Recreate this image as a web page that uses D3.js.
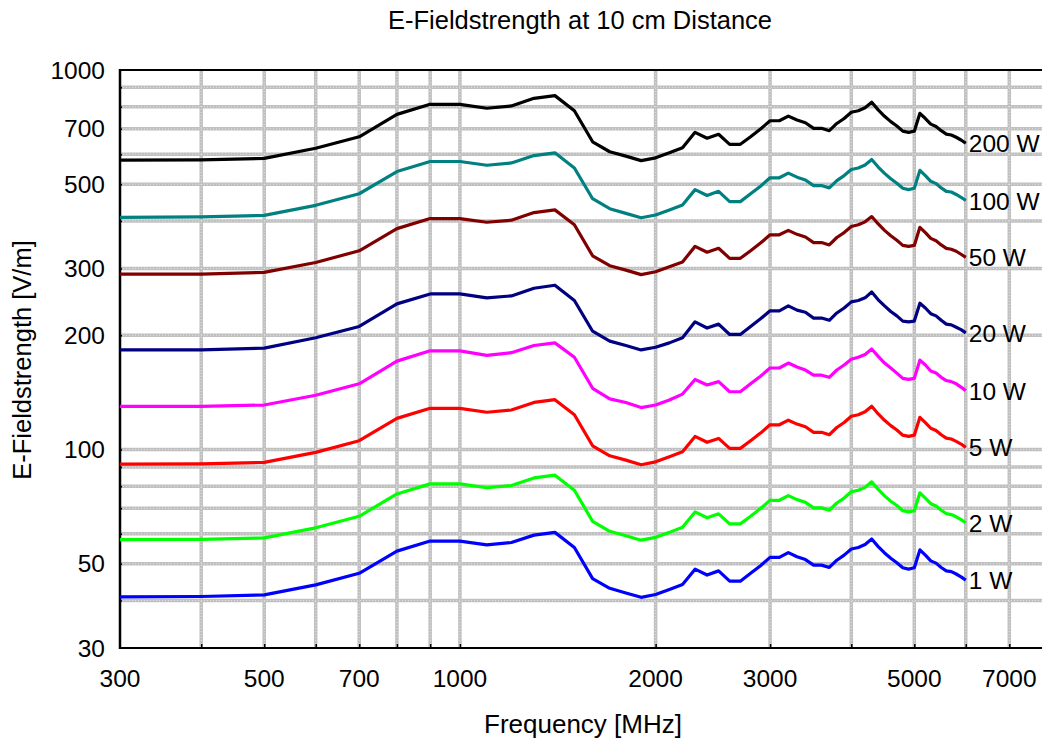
<!DOCTYPE html>
<html><head><meta charset="utf-8">
<script src="https://cdn.jsdelivr.net/npm/d3@7"></script>
<style>body{margin:0;background:#fff;}svg{display:block;font-family:Arial,"Liberation Sans",sans-serif;}</style>
</head><body>
<svg id="chart" width="1042" height="742"></svg>
<script>
const frequencies = [300,400,500,600,700,800,900,1000,1100,1200,1300,1400,1500,1600,1700,1800,1900,2000,2100,2200,2300,2400,2500,2600,2700,2800,2900,3000,3100,3200,3300,3400,3500,3600,3700,3800,3900,4000,4100,4200,4300,4400,4500,4600,4700,4800,4900,5000,5100,5200,5300,5400,5500,5600,5700,5800,5900,6000];
const w200 = [579,580,585,622,667,764,812,812,793,804,842,856,781,647,609,593,577,587,605,624,685,661,677,637,637,667,699,735,735,756,738,726,702,702,692,723,745,774,781,795,822,785,755,731,712,690,685,690,769,745,720,710,692,678,674,665,654,641];
const w100 = [409,410,414,440,472,540,574,574,561,569,595,605,552,458,431,419,408,415,428,441,484,467,479,450,450,472,494,520,520,535,522,513,496,496,489,511,527,547,552,562,581,555,534,517,503,488,484,488,544,527,509,502,489,479,477,470,462,453];
const w50 = [290,290,293,311,334,382,406,406,397,402,421,428,391,324,305,297,289,294,303,312,343,331,339,319,319,334,350,368,368,378,369,363,351,351,346,362,373,387,391,398,411,393,378,366,356,345,343,345,385,373,360,355,346,339,337,333,327,321];
const w20 = [183,183,185,197,211,242,257,257,251,254,266,271,247,205,193,188,183,186,191,197,217,209,214,201,201,211,221,232,232,239,233,230,222,222,219,229,236,245,247,251,260,248,239,231,225,218,217,218,243,236,228,225,219,214,213,210,207,203];
const w10 = [130,130,131,139,149,171,182,182,177,180,188,191,175,145,136,133,129,131,135,140,153,148,151,142,142,149,156,164,164,169,165,162,157,157,155,162,167,173,175,178,184,176,169,164,159,154,153,154,172,167,161,159,155,152,151,149,146,143];
const w5 = [91.5,91.7,92.5,98.3,105.5,120.8,128.4,128.4,125.4,127.1,133.1,135.3,123.5,102.3,96.3,93.8,91.2,92.8,95.7,98.7,108.3,104.5,107.0,100.7,100.7,105.5,110.5,116.2,116.2,119.5,116.7,114.8,111.0,111.0,109.4,114.3,117.8,122.4,123.5,125.7,130.0,124.1,119.4,115.6,112.6,109.1,108.3,109.1,121.6,117.8,113.8,112.3,109.4,107.2,106.6,105.1,103.4,101.3];
const w2 = [57.9,58.0,58.5,62.2,66.7,76.4,81.2,81.2,79.3,80.4,84.2,85.6,78.1,64.7,60.9,59.3,57.7,58.7,60.5,62.4,68.5,66.1,67.7,63.7,63.7,66.7,69.9,73.5,73.5,75.6,73.8,72.6,70.2,70.2,69.2,72.3,74.5,77.4,78.1,79.5,82.2,78.5,75.5,73.1,71.2,69.0,68.5,69.0,76.9,74.5,72.0,71.0,69.2,67.8,67.4,66.5,65.4,64.1];
const w1 = [40.9,41.0,41.4,44.0,47.2,54.0,57.4,57.4,56.1,56.9,59.5,60.5,55.2,45.7,43.1,41.9,40.8,41.5,42.8,44.1,48.4,46.7,47.9,45.0,45.0,47.2,49.4,52.0,52.0,53.5,52.2,51.3,49.6,49.6,48.9,51.1,52.7,54.7,55.2,56.2,58.1,55.5,53.4,51.7,50.3,48.8,48.4,48.8,54.4,52.7,50.9,50.2,48.9,47.9,47.7,47.0,46.2,45.3];

const seriesNames = ["200 W","100 W","50 W","20 W","10 W","5 W","2 W","1 W"];
const seriesValues = [w200,w100,w50,w20,w10,w5,w2,w1];
const seriesColors = ["#000000","#008080","#800000","#000080","#ff00ff","#ff0000","#00ff00","#0000ff"];

const xTickLabels = [300,500,700,1000,2000,3000,5000,7000];
const yTickLabels = [30,50,100,200,300,500,700,1000];
const xGrid = [400,500,600,700,800,900,1000,2000,3000,4000,5000,6000,7000];
const yGrid = [40,50,60,70,80,90,100,200,300,400,500,600,700,800,900];

const svg = d3.select("#chart");
const L = 120, R = 1047, T = 70, B = 648;
const x = d3.scaleLog().domain([300, 8000]).range([L, R]);
const y = d3.scaleLog().domain([30, 1000]).range([B, T]);

svg.append("defs").append("clipPath").attr("id","clip")
  .append("rect").attr("x",L).attr("y",T).attr("width",R-L).attr("height",B-T);

const grid = svg.append("g");
function gridLines(cls, stroke, width, dash, op){
  grid.selectAll("line.v"+cls).data(xGrid).enter().append("line").attr("class","v"+cls)
    .attr("x1",d=>x(d)).attr("x2",d=>x(d)).attr("y1",T).attr("y2",B)
    .attr("stroke",stroke).attr("stroke-width",width).attr("stroke-dasharray",dash).attr("opacity",op);
  grid.selectAll("line.h"+cls).data(yGrid).enter().append("line").attr("class","h"+cls)
    .attr("x1",L).attr("x2",R).attr("y1",d=>y(d)).attr("y2",d=>y(d))
    .attr("stroke",stroke).attr("stroke-width",width).attr("stroke-dasharray",dash).attr("opacity",op);
}
gridLines("a","#c0c0c0",3.5,null,1);
gridLines("b","#ffffff",1,"1,2",0.55);

// axes
const xAxis = d3.axisBottom(x).tickValues(xGrid).tickSize(-4).tickFormat("");
svg.append("g").attr("transform",`translate(0,${B})`).call(xAxis)
  .call(g=>g.select(".domain").remove())
  .call(g=>g.selectAll(".tick line").attr("stroke","#000").attr("stroke-width",1.5));
const yAxis = d3.axisLeft(y).tickValues(yGrid).tickSize(-2).tickFormat("");
svg.append("g").attr("transform",`translate(${L},0)`).call(yAxis)
  .call(g=>g.select(".domain").remove())
  .call(g=>g.selectAll(".tick line").attr("stroke","#000").attr("stroke-width",1.5));

// frame
svg.append("line").attr("x1",L).attr("x2",R).attr("y1",T).attr("y2",T).attr("stroke","#000").attr("stroke-width",2);
svg.append("line").attr("x1",L).attr("x2",R).attr("y1",B).attr("y2",B).attr("stroke","#000").attr("stroke-width",2);
svg.append("line").attr("x1",L).attr("x2",L).attr("y1",T-1).attr("y2",B+1).attr("stroke","#000").attr("stroke-width",2.5);
svg.append("line").attr("x1",R).attr("x2",R).attr("y1",T).attr("y2",B).attr("stroke","#000").attr("stroke-width",2);

// tick labels
svg.append("g").selectAll("text").data(xTickLabels).enter().append("text")
  .attr("x",d=>x(d)).attr("y",B+39).attr("text-anchor","middle")
  .attr("font-size",24.5).text(d=>d);
svg.append("g").selectAll("text").data(yTickLabels).enter().append("text")
  .attr("x",L-15).attr("y",d=>y(d)+8.5).attr("text-anchor","end")
  .attr("font-size",24.5).text(d=>d);

// lines
const line = d3.line().x((d,i)=>x(frequencies[i])).y(d=>y(d));
const lines = svg.append("g").attr("clip-path","url(#clip)");
seriesValues.forEach((vals,k)=>{
  lines.append("path").attr("d",line(vals)).attr("fill","none")
    .attr("stroke",seriesColors[k]).attr("stroke-width",3.2).attr("stroke-linejoin","round");
});

// series labels
seriesValues.forEach((vals,k)=>{
  svg.append("text").attr("x",x(frequencies[frequencies.length-1])+3)
    .attr("y",y(vals[vals.length-1])+9).attr("font-size",24.5).attr("fill","#000")
    .text(seriesNames[k]);
});

// titles
svg.append("text").attr("x",580).attr("y",29).attr("text-anchor","middle")
  .attr("font-size",25.5).text("E-Fieldstrength at 10 cm Distance");
svg.append("text").attr("x",583).attr("y",733).attr("text-anchor","middle")
  .attr("font-size",26).text("Frequency [MHz]");
svg.append("text").attr("transform","translate(31,360) rotate(-90)").attr("text-anchor","middle")
  .attr("font-size",25.5).text("E-Fieldstrength [V/m]");
</script>
</body></html>
